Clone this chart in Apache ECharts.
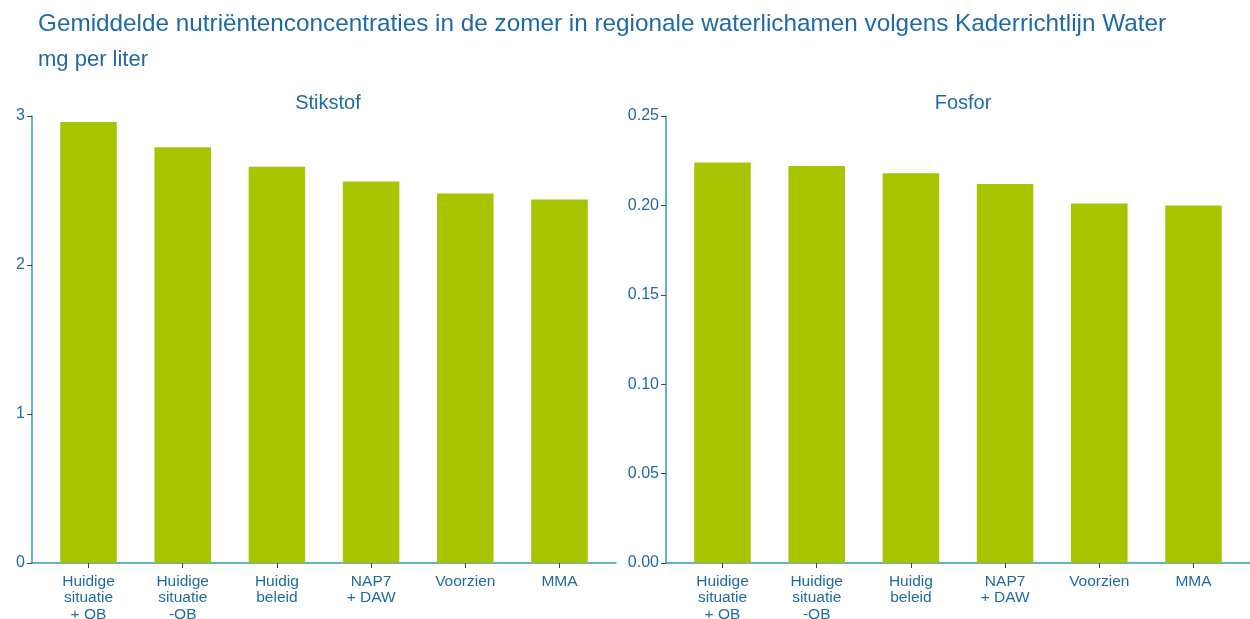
<!DOCTYPE html>
<html>
<head>
<meta charset="UTF-8">
<title>Nutriëntenconcentraties</title>
<script src="https://cdn.jsdelivr.net/npm/echarts@6/dist/echarts.min.js"></script>
<style>
  html, body { margin: 0; padding: 0; background: #fff; }
  #container { width: 1250px; height: 619px; }
</style>
</head>
<body>
<div id="container"></div>
<script type="text/javascript">
    // categorieën en waarden (mg per liter)
    var categories = ['Huidige\nsituatie\n+ OB', 'Huidige\nsituatie\n-OB', 'Huidig\nbeleid', 'NAP7\n+ DAW', 'Voorzien', 'MMA'];
    var stikstof = [2.96, 2.79, 2.66, 2.56, 2.48, 2.44];
    var fosfor = [0.224, 0.222, 0.218, 0.212, 0.201, 0.200];

    var blauw = '#1f6aa5';
    var lijn = '#2a9ac8';
    var groen = '#a8c300';
    var font = 'Liberation Sans, Arial, sans-serif';

    var mychart = echarts.init(document.getElementById('container'));

    // frame-as (lijn + y-labels) en een as voor de staven
    function frameY(idx, max, step, fmt) {
        return {
            gridIndex: idx, type: 'value', min: 0, max: max, interval: step,
            axisLine: { show: true, lineStyle: { color: lijn, width: 1.5 } },
            axisTick: { show: true, length: 5, lineStyle: { color: '#444' } },
            axisLabel: { color: blauw, fontSize: 16, fontFamily: font, margin: 7,
                formatter: fmt },
            splitLine: { show: false }
        };
    }
    function hiddenY(idx, max) {
        return { gridIndex: idx, type: 'value', min: 0, max: max, show: false };
    }
    function frameX(idx) {
        return {
            gridIndex: idx, type: 'value', min: 0, max: 1,
            axisLine: { show: true, onZero: false, lineStyle: { color: lijn, width: 1.5 } },
            axisTick: { show: false }, axisLabel: { show: false }, splitLine: { show: false }
        };
    }
    function catX(idx) {
        return {
            gridIndex: idx, type: 'category', data: categories,
            axisLine: { show: false },
            axisTick: { show: true, alignWithLabel: true, length: 5, lineStyle: { color: '#444' } },
            axisLabel: { color: blauw, fontSize: 15.5, fontFamily: font, lineHeight: 16.5, margin: 10, interval: 0 }
        };
    }
    function grid(l, r) {
        return { left: l, right: r, top: 116, bottom: 56, outerBoundsMode: 'none', containLabel: false };
    }

    var option = {
        animation: false,
        title: [
            { text: 'Gemiddelde nutriëntenconcentraties in de zomer in regionale waterlichamen volgens Kaderrichtlijn Water',
              left: 33, top: 7, textStyle: { color: blauw, fontSize: 24.3, fontWeight: 'normal', fontFamily: font } },
            { text: 'mg per liter', left: 33, top: 44,
              textStyle: { color: blauw, fontSize: 22, fontWeight: 'normal', fontFamily: font } },
            { text: 'Stikstof', left: 323, top: 88, textAlign: 'center',
              textStyle: { color: blauw, fontSize: 20, fontWeight: 'normal', fontFamily: font } },
            { text: 'Fosfor', left: 958, top: 88, textAlign: 'center',
              textStyle: { color: blauw, fontSize: 20, fontWeight: 'normal', fontFamily: font } }
        ],
        grid: [
            grid(32, 634),
            grid(41.4, 643.4),
            grid(666, 0),
            grid(675.4, 9.4)
        ],
        xAxis: [ frameX(0), catX(1), frameX(2), catX(3) ],
        yAxis: [
            frameY(0, 3, 1),
            hiddenY(1, 3),
            frameY(2, 0.25, 0.05, function (v) { return v.toFixed(2); }),
            hiddenY(3, 0.25)
        ],
        series: [
            { name: 'Stikstof', type: 'bar', xAxisIndex: 1, yAxisIndex: 1, data: stikstof,
              barWidth: '60%', itemStyle: { color: groen } },
            { name: 'Fosfor', type: 'bar', xAxisIndex: 3, yAxisIndex: 3, data: fosfor,
              barWidth: '60%', itemStyle: { color: groen } }
        ]
    };

    mychart.setOption(option);
</script>
</body>
</html>
